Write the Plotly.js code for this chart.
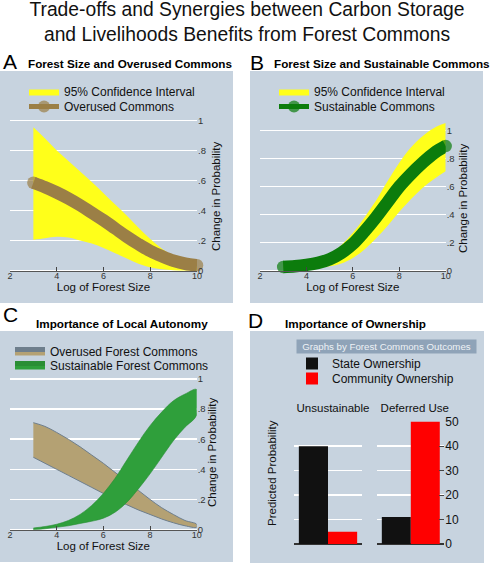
<!DOCTYPE html>
<html>
<head>
<meta charset="utf-8">
<script src="https://cdn.plot.ly/plotly-3.0.1.min.js"></script>
<style>
html,body{margin:0;padding:0;background:#fff;}
#chart{width:494px;height:564px;}
</style>
</head>
<body>
<div id="chart"></div>
<script>
// ---------- data ----------
const forestSize = [3, 3.5, 4, 4.5, 5, 5.5, 6, 6.5, 7, 7.5, 8, 8.5, 9, 9.5, 10];

// Panel A: forest size and overused commons
const overusedMean  = [0.585, 0.555, 0.52, 0.48, 0.435, 0.385, 0.335, 0.28, 0.225, 0.175, 0.13, 0.095, 0.065, 0.045, 0.035];
const overusedUpper = [0.955, 0.88, 0.80, 0.73, 0.66, 0.59, 0.515, 0.44, 0.365, 0.285, 0.21, 0.145, 0.095, 0.06, 0.04];
const overusedLower = [0.205, 0.215, 0.225, 0.22, 0.20, 0.18, 0.15, 0.115, 0.08, 0.045, 0.02, 0.008, 0.002, 0.0, 0.0];

// Panel B: forest size and sustainable commons
const sustainableMean  = [0.025, 0.03, 0.04, 0.055, 0.08, 0.125, 0.19, 0.28, 0.38, 0.49, 0.60, 0.69, 0.77, 0.84, 0.89];
const sustainableUpper = [0.03, 0.035, 0.045, 0.07, 0.11, 0.18, 0.27, 0.38, 0.50, 0.64, 0.77, 0.88, 0.96, 1.02, 1.055];
const sustainableLower = [0.02, 0.02, 0.02, 0.02, 0.03, 0.05, 0.09, 0.15, 0.23, 0.32, 0.42, 0.51, 0.59, 0.655, 0.71];

// Panel C: importance of local autonomy (bands)
const autonomyOverusedUpper    = [0.71, 0.685, 0.645, 0.60, 0.55, 0.495, 0.44, 0.38, 0.32, 0.26, 0.20, 0.145, 0.10, 0.06, 0.035];
const autonomyOverusedLower    = [0.48, 0.44, 0.40, 0.36, 0.32, 0.28, 0.24, 0.20, 0.165, 0.13, 0.10, 0.07, 0.045, 0.025, 0.015];
const autonomySustainableUpper = [0.01, 0.02, 0.035, 0.06, 0.10, 0.16, 0.24, 0.34, 0.46, 0.58, 0.69, 0.78, 0.855, 0.90, 0.93];
const autonomySustainableLower = [0.0, 0.005, 0.015, 0.025, 0.04, 0.055, 0.075, 0.115, 0.18, 0.27, 0.37, 0.48, 0.59, 0.68, 0.76];

// axis ticks
const forestTicks = [2, 4, 6, 8, 10];
const probTicks = [0, 0.2, 0.4, 0.6, 0.8, 1];
const probTickText = ['0', '.2', '.4', '.6', '.8', '1'];

// Panel D: importance of ownership
const outcomes = ['Unsustainable', 'Deferred Use'];
const stateOwnership = [40, 11];
const communityOwnership = [5, 50];
const ownershipTicks = [0, 10, 20, 30, 40, 50];

// ---------- helpers (pixel geometry -> paper fractions) ----------
const W = 494, H = 564;
const xd = (a, b) => [a / W, b / W];
const yd = (top, bottom) => [1 - bottom / H, 1 - top / H];
const py = p => 1 - p / H;
const px = p => p / W;

const BG = '#c7d3df';
const FONT = 'Liberation Sans, Arial, Helvetica, sans-serif';
const YELLOW = '#ffff1a';
const BROWN = '#9b7f46';
const GREEN = '#0c7c0c';
const TAN = '#b4a173';
const GREEN2 = '#2f9f3b';

function capSizes(n, s) { return forestSize.map((_, i) => (i === 0 || i === n - 1) ? s : 0); }
function band(upper, lower) {
  return {
    x: forestSize.concat(forestSize.slice().reverse()),
    y: upper.concat(lower.slice().reverse())
  };
}

const bandOver = band(autonomyOverusedUpper, autonomyOverusedLower);
const bandSust = band(autonomySustainableUpper, autonomySustainableLower);

const traces = [
  // Panel A
  {x: forestSize, y: overusedLower, xaxis: 'x', yaxis: 'y', mode: 'lines', line: {width: 0, color: YELLOW, shape: 'spline'},
   showlegend: false, hoverinfo: 'skip', legend: 'legend'},
  {x: forestSize, y: overusedUpper, xaxis: 'x', yaxis: 'y', mode: 'lines', line: {width: 0, color: YELLOW, shape: 'spline'},
   fill: 'tonexty', fillcolor: YELLOW, name: '95% Confidence Interval', legend: 'legend'},
  {x: forestSize, y: overusedMean, xaxis: 'x', yaxis: 'y', mode: 'lines+markers', cliponaxis: false,
   line: {width: 12.5, color: BROWN, shape: 'spline'},
   marker: {size: capSizes(forestSize.length, 12.5), color: BROWN, line: {width: 0}},
   name: 'Overused Commons', legend: 'legend2'},

  // Panel B
  {x: forestSize, y: sustainableLower, xaxis: 'x2', yaxis: 'y2', mode: 'lines', line: {width: 0, color: YELLOW, shape: 'spline'},
   showlegend: false, hoverinfo: 'skip', legend: 'legend3'},
  {x: forestSize, y: sustainableUpper, xaxis: 'x2', yaxis: 'y2', mode: 'lines', line: {width: 0, color: YELLOW, shape: 'spline'},
   fill: 'tonexty', fillcolor: YELLOW, name: '95% Confidence Interval', legend: 'legend3'},
  {x: forestSize, y: sustainableMean, xaxis: 'x2', yaxis: 'y2', mode: 'lines+markers', cliponaxis: false,
   line: {width: 12.5, color: GREEN, shape: 'spline'},
   marker: {size: capSizes(forestSize.length, 12.5), color: GREEN, line: {width: 0}},
   name: 'Sustainable Commons', legend: 'legend4'},

  // Panel C
  {x: bandOver.x, y: bandOver.y, xaxis: 'x3', yaxis: 'y3', mode: 'lines', fill: 'toself', fillcolor: TAN,
   line: {width: 1, color: '#6e7e8c', shape: 'spline'}, name: 'Overused Forest Commons', legend: 'legend5'},
  {x: bandSust.x, y: bandSust.y, xaxis: 'x3', yaxis: 'y3', mode: 'lines', fill: 'toself', fillcolor: GREEN2,
   line: {width: 0.6, color: '#2a8e35', shape: 'spline'}, name: 'Sustainable Forest Commons', legend: 'legend6'},

  // Panel D
  {type: 'bar', x: [outcomes[0]], y: [stateOwnership[0]], xaxis: 'x4', yaxis: 'y4', marker: {color: '#111111'},
   name: 'State Ownership', legendgroup: 'state', legend: 'legend7'},
  {type: 'bar', x: [outcomes[0]], y: [communityOwnership[0]], xaxis: 'x4', yaxis: 'y4', marker: {color: '#ff0000'},
   name: 'Community Ownership', legendgroup: 'community', legend: 'legend8'},
  {type: 'bar', x: [outcomes[1]], y: [stateOwnership[1]], xaxis: 'x5', yaxis: 'y4', marker: {color: '#111111'},
   name: 'State Ownership', legendgroup: 'state', showlegend: false, legend: 'legend7'},
  {type: 'bar', x: [outcomes[1]], y: [communityOwnership[1]], xaxis: 'x5', yaxis: 'y4', marker: {color: '#ff0000'},
   name: 'Community Ownership', legendgroup: 'community', showlegend: false, legend: 'legend8'}
];

function forestX(domain, zeroPx) {
  return {
    domain: domain, range: [2, 10], anchor: 'free', position: py(zeroPx),
    tickvals: forestTicks, ticks: 'inside', ticklen: 4, tickwidth: 1, tickcolor: '#444',
    showline: true, linecolor: '#555', linewidth: 1.5, showgrid: false, zeroline: false,
    tickfont: {size: 9, color: '#333', family: FONT}, ticklabelstandoff: -4,
    title: {text: 'Log of Forest Size', font: {size: 11.5, color: '#111', family: FONT}, standoff: 0},
    fixedrange: true
  };
}
function probY(domain, range, anchorX) {
  return {
    domain: domain, range: range, anchor: anchorX, side: 'right',
    tickvals: probTicks, ticktext: probTickText, ticks: '',
    tickfont: {size: 9.5, color: '#333', family: FONT},
    showgrid: true, gridcolor: '#ffffff', gridwidth: 1.5, zeroline: false, showline: false,
    fixedrange: true
  };
}

function letter(t, x, y) {
  return {text: t, xref: 'paper', yref: 'paper', x: px(x), y: py(y), xanchor: 'left', yanchor: 'middle',
          showarrow: false, font: {size: 21, color: '#000', family: FONT}};
}
function ptitle(t, x, y) {
  return {text: t, xref: 'paper', yref: 'paper', x: px(x), y: py(y), xanchor: 'left', yanchor: 'middle',
          showarrow: false, font: {size: 11.7, color: '#000', family: FONT, weight: 700}};
}
function vtitle(t, x, y) {
  return {text: t, xref: 'paper', yref: 'paper', x: px(x), y: py(y), xanchor: 'center', yanchor: 'middle',
          textangle: -90, showarrow: false, font: {size: 11.5, color: '#111', family: FONT}};
}
function panel(x0, y0, x1, y1) {
  return {type: 'rect', xref: 'paper', yref: 'paper', x0: px(x0), x1: px(x1), y0: py(y1), y1: py(y0),
          fillcolor: BG, line: {width: 0}, layer: 'below'};
}
// legend row: text starts at textX, row centred at rowY
function legendAt(textX, rowY) {
  return {x: px(textX - 40), y: py(rowY - 15), xanchor: 'left', yanchor: 'top', bgcolor: 'rgba(0,0,0,0)', borderwidth: 0,
          font: {size: 12, color: '#111', family: FONT}, traceorder: 'normal', itemsizing: 'constant', itemclick: false};
}

const layout = {
  width: W, height: H,
  margin: {l: 0, r: 0, t: 0, b: 0},
  paper_bgcolor: '#ffffff', plot_bgcolor: 'rgba(0,0,0,0)',
  font: {family: FONT, color: '#111'},
  showlegend: true,
  barmode: 'group', bargap: 0.135, bargroupgap: 0,
  title: {text: 'Trade-offs and Synergies between Carbon Storage<br>and Livelihoods Benefits from Forest Commons',
          x: 0.5, xanchor: 'center', xref: 'paper', y: 1 - 16 / H, yref: 'container', yanchor: 'top',
          font: {size: 19.3, color: '#111', family: FONT}},

  xaxis:  forestX(xd(10, 197), 270.5),
  yaxis:  probY(yd(119, 277.25), [-0.045, 1.01], 'x'),
  xaxis2: forestX(xd(260, 445.7), 270.5),
  yaxis2: probY(yd(120.9, 276.8), [-0.045, 1.07], 'x2'),
  xaxis3: forestX(xd(10, 196.7), 529.5),
  yaxis3: probY(yd(377.5, 534.8), [-0.035, 1.01], 'x3'),

  xaxis4: {domain: xd(294.3, 361.7), anchor: 'y4', side: 'top', type: 'category', ticks: '', showline: false,
           showgrid: false, zeroline: false, ticklabelshift: 5, ticklabelstandoff: 6,
           tickfont: {size: 11.5, color: '#111', family: FONT}, fixedrange: true},
  xaxis5: {domain: xd(377.3, 444.3), anchor: 'y4', side: 'top', type: 'category', ticks: '', showline: false,
           showgrid: false, zeroline: false, ticklabelshift: 4, ticklabelstandoff: 6,
           tickfont: {size: 11.5, color: '#111', family: FONT}, fixedrange: true},
  yaxis4: {domain: yd(421, 545), range: [-0.4, 50.3], anchor: 'x5', side: 'right',
           tickvals: ownershipTicks, ticks: 'inside', ticklen: 5, tickwidth: 1, tickcolor: '#444',
           tickfont: {size: 12, color: '#111', family: FONT},
           showgrid: true, gridcolor: '#ffffff', gridwidth: 1.5,
           zeroline: true, zerolinecolor: '#333', zerolinewidth: 1.5, showline: false, fixedrange: true},

  legend:  legendAt(64, 92),
  legend2: legendAt(64, 107),
  legend3: legendAt(314, 92),
  legend4: legendAt(314, 107),
  legend5: legendAt(50, 352),
  legend6: legendAt(50, 366),
  legend7: legendAt(332, 364),
  legend8: legendAt(332, 379),

  shapes: [panel(0, 71, 233, 303), panel(250, 71, 483, 303), panel(0, 331, 233, 562), panel(250, 331, 484, 563)],

  annotations: [
    letter('A', 1, 62), ptitle('Forest Size and Overused Commons', 26, 63.5),
    letter('B', 248, 62.5), ptitle('Forest Size and Sustainable Commons', 272, 64),
    letter('C', 1, 315), ptitle('Importance of Local Autonomy', 34, 323),
    letter('D', 246, 320), ptitle('Importance of Ownership', 283, 323),
    vtitle('Change in Probability', 216, 196),
    vtitle('Change in Probability', 463, 198),
    vtitle('Change in Probability', 212, 452),
    vtitle('Predicted Probability', 272, 473),
    {text: 'Graphs by Forest Commons Outcomes', xref: 'paper', yref: 'paper', x: px(386.5), y: py(346), xanchor: 'center', yanchor: 'middle',
     showarrow: false, bgcolor: '#8fa3b8', width: 177, height: 11, borderpad: 1, align: 'center',
     font: {size: 9.7, color: '#eef2f6', family: FONT}}
  ]
};

Plotly.newPlot('chart', traces, layout, {displayModeBar: false, staticPlot: true});
</script>
</body>
</html>
